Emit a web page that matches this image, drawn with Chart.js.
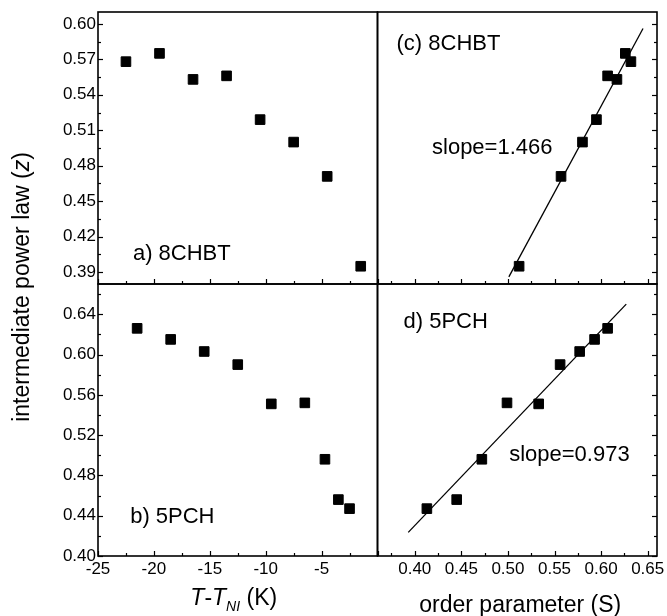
<!DOCTYPE html>
<html>
<head>
<meta charset="utf-8">
<script src="https://cdn.jsdelivr.net/npm/chart.js@4/dist/chart.umd.min.js"></script>
<style>
  html, body { margin: 0; padding: 0; background: #fff; }
  #wrap { position: relative; width: 667px; height: 616px; }
  canvas { display: block; }
</style>
</head>
<body>
<div id="wrap"><canvas id="c" width="667" height="616"></canvas></div>
<script>
// ---- data ----
// (a) 8CHBT vs T - T_NI
const tempA = [-22.5, -19.5, -16.5, -13.5, -10.5, -7.5, -4.5, -1.5];
const zA    = [0.568, 0.575, 0.553, 0.556, 0.519, 0.500, 0.471, 0.395];
// (c) 8CHBT vs order parameter (same z values, same order)
const orderC = [0.632, 0.626, 0.617, 0.607, 0.595, 0.580, 0.557, 0.512];
const fitCx  = [0.501, 0.645];
const fitCy  = [0.386, 0.596];
// (b) 5PCH vs T - T_NI
const tempB = [-21.5, -18.5, -15.5, -12.5, -9.5, -6.5, -4.7, -3.5, -2.5];
const zB    = [0.626, 0.615, 0.603, 0.590, 0.551, 0.552, 0.496, 0.456, 0.447];
// (d) 5PCH vs order parameter
const orderD = [0.607, 0.593, 0.577, 0.556, 0.533, 0.499, 0.472, 0.445, 0.413];
const fitDx  = [0.393, 0.627];
const fitDy  = [0.4235, 0.650];

// tick values
const tempTicks  = [-25, -20, -15, -10, -5, 0];
const orderTicks = [0.40, 0.45, 0.50, 0.55, 0.60, 0.65];
const zTopTicks  = [0.39, 0.42, 0.45, 0.48, 0.51, 0.54, 0.57, 0.60];
const zBotTicks  = [0.40, 0.44, 0.48, 0.52, 0.56, 0.60, 0.64];

const panelLabels = ['a) 8CHBT', '(c) 8CHBT', 'b) 5PCH', 'd) 5PCH'];
const slopeLabels = ['slope=1.466', 'slope=0.973'];

// ---- helpers ----
const FONT = "'Liberation Sans', Arial, Helvetica, sans-serif";
const pts = (xs, ys) => xs.map((x, i) => ({x: x, y: ys[i]}));

function scatterSet(xs, ys, xid, yid) {
  return {
    data: pts(xs, ys), xAxisID: xid, yAxisID: yid,
    showLine: false, pointStyle: 'rect', pointRadius: 6.8, pointHoverRadius: 6.8,
    pointBackgroundColor: '#000', pointBorderColor: '#000', pointBorderWidth: 1
  };
}
function lineSet(xs, ys, xid, yid) {
  return {
    data: pts(xs, ys), xAxisID: xid, yAxisID: yid,
    showLine: true, pointRadius: 0, borderColor: '#000', borderWidth: 1.3, fill: false
  };
}
const fmt2 = v => Number(v).toFixed(2);

function axis(extra, tickVals, tickOpts) {
  return Object.assign({
    type: 'linear',
    grid: { display: false, drawTicks: false },
    border: { display: false },
    ticks: Object.assign({ color: '#000', font: { family: FONT, size: 17 }, autoSkip: false, maxRotation: 0 }, tickOpts),
    afterBuildTicks: s => { s.ticks = tickVals.map(v => ({ value: v })); }
  }, extra);
}
const fitX = s => { s.height = 60; s.paddingLeft = 0; s.paddingRight = 0; };
const fitY = s => { s.width = 98; s.paddingTop = 0; s.paddingBottom = 0; };

function drawRuns(ctx, runs, cx, cy) {
  let total = 0;
  runs.forEach(r => {
    ctx.font = (r.italic ? 'italic ' : '') + r.size + 'px ' + FONT;
    r.w = ctx.measureText(r.t).width;
    total += r.w;
  });
  let x = cx - total / 2;
  ctx.textAlign = 'left';
  ctx.textBaseline = 'middle';
  runs.forEach(r => {
    ctx.font = (r.italic ? 'italic ' : '') + r.size + 'px ' + FONT;
    ctx.fillText(r.t, x, cy + (r.dy || 0));
    x += r.w;
  });
}

function tickSets(scale) {
  const majors = scale.ticks.map(t => t.value);
  const minors = [];
  if (majors.length > 1) {
    const step = majors[1] - majors[0];
    const cand = [majors[0] - step / 2];
    for (let i = 0; i < majors.length - 1; i++) cand.push((majors[i] + majors[i + 1]) / 2);
    cand.push(majors[majors.length - 1] + step / 2);
    cand.forEach(v => { if (v >= scale.min - 1e-9 && v <= scale.max + 1e-9) minors.push(v); });
  }
  return { majors, minors };
}

const panelPlugin = {
  id: 'panels',
  afterDraw(chart) {
    const ctx = chart.ctx;
    const { xL, xR, yT, yB } = chart.scales;
    ctx.save();
    ctx.strokeStyle = '#000';
    ctx.fillStyle = '#000';
    // frames
    ctx.lineWidth = 1.6;
    [xL, xR].forEach(xs => [yT, yB].forEach(ys => {
      ctx.strokeRect(xs.left, ys.top, xs.right - xs.left, ys.bottom - ys.top);
    }));
    // inward ticks
    ctx.lineWidth = 1.2;
    const MAJ = 5, MIN = 3;
    const vTicks = (ys, x0, dir) => {
      const t = tickSets(ys);
      [[t.majors, MAJ], [t.minors, MIN]].forEach(([vals, len]) => vals.forEach(v => {
        const y = Math.round(ys.getPixelForValue(v)) + 0.5;
        ctx.beginPath(); ctx.moveTo(x0, y); ctx.lineTo(x0 + dir * len, y); ctx.stroke();
      }));
    };
    const hTicks = (xs, y0) => {
      const t = tickSets(xs);
      [[t.majors, MAJ], [t.minors, MIN]].forEach(([vals, len]) => vals.forEach(v => {
        const x = Math.round(xs.getPixelForValue(v)) + 0.5;
        ctx.beginPath(); ctx.moveTo(x, y0); ctx.lineTo(x, y0 - len); ctx.stroke();
      }));
    };
    [yT, yB].forEach(ys => { vTicks(ys, xL.left, 1); vTicks(ys, xR.right, -1); });
    [yT, yB].forEach(ys => { hTicks(xL, ys.bottom); hTicks(xR, ys.bottom); });

    // panel annotations (placed as fractions of each panel)
    const place = (txt, xs, ys, fx, fy) => {
      ctx.font = '22px ' + FONT;
      ctx.textAlign = 'left';
      ctx.textBaseline = 'middle';
      ctx.fillText(txt, xs.left + fx * (xs.right - xs.left), ys.top + fy * (ys.bottom - ys.top));
    };
    place(panelLabels[0], xL, yT, 0.125, 0.89);
    place(panelLabels[1], xR, yT, 0.068, 0.118);
    place(slopeLabels[0], xR, yT, 0.195, 0.50);
    place(panelLabels[2], xL, yB, 0.115, 0.857);
    place(panelLabels[3], xR, yB, 0.093, 0.14);
    place(slopeLabels[1], xR, yB, 0.471, 0.629);

    // axis titles
    ctx.save();
    ctx.translate(23, (yT.top + yB.bottom) / 2 + 3);
    ctx.rotate(-Math.PI / 2);
    drawRuns(ctx, [
      { t: 'intermediate power law (', size: 23 },
      { t: 'z', size: 23, italic: true },
      { t: ')', size: 23 }
    ], 0, 0);
    ctx.restore();

    drawRuns(ctx, [
      { t: 'T', size: 23, italic: true },
      { t: '-', size: 23 },
      { t: 'T', size: 23, italic: true },
      { t: 'NI', size: 14, italic: true, dy: 8 },
      { t: ' (K)', size: 23 }
    ], (xL.left + xL.right) / 2 - 4, 599);

    drawRuns(ctx, [{ t: 'order parameter (S)', size: 23 }], (xR.left + xR.right) / 2 + 3, 606);
    ctx.restore();
  }
};

new Chart(document.getElementById('c'), {
  type: 'scatter',
  data: {
    datasets: [
      scatterSet(tempA, zA, 'xL', 'yT'),
      scatterSet(orderC, zA, 'xR', 'yT'),
      lineSet(fitCx, fitCy, 'xR', 'yT'),
      scatterSet(tempB, zB, 'xL', 'yB'),
      scatterSet(orderD, zB, 'xR', 'yB'),
      lineSet(fitDx, fitDy, 'xR', 'yB')
    ]
  },
  options: {
    responsive: false,
    animation: false,
    layout: { padding: { top: 12, right: 10, left: 0, bottom: 0 } },
    plugins: { legend: { display: false }, tooltip: { enabled: false }, title: { display: false } },
    scales: {
      xL: axis({
        position: 'bottom', stack: 'bottom', stackWeight: 1, weight: 0, min: -25, max: 0, afterFit: fitX
      }, tempTicks, { padding: 3, callback: v => (v === 0 ? '' : String(v)) }),
      xR: axis({
        position: 'bottom', stack: 'bottom', stackWeight: 1, weight: 1, min: 0.36, max: 0.66, afterFit: fitX
      }, orderTicks, { padding: 3, callback: fmt2 }),
      yT: axis({
        position: 'left', stack: 'left', stackWeight: 1, weight: 1, min: 0.38, max: 0.61, afterFit: fitY
      }, zTopTicks, { padding: 2, callback: fmt2 }),
      yB: axis({
        position: 'left', stack: 'left', stackWeight: 1, weight: 0, min: 0.40, max: 0.67, afterFit: fitY
      }, zBotTicks, { padding: 2, callback: fmt2 })
    }
  },
  plugins: [panelPlugin]
});
</script>
</body>
</html>
